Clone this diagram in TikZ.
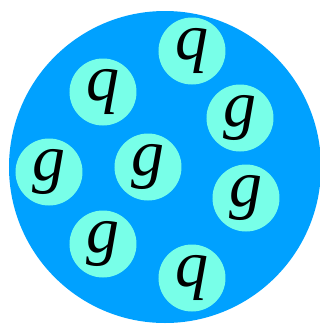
\documentclass[tikz,border=0pt]{standalone}
\usepackage{fontspec}
\setmainfont{Liberation Serif}
\definecolor{hadron}{RGB}{0,161,255}
\definecolor{parton}{RGB}{120,255,232}
\tikzset{
    part/.style={circle, fill=parton, inner sep=0pt, minimum size=67pt,
        font=\fontsize{66}{66}\selectfont\itshape}
}
\begin{document}
\begin{tikzpicture}[x=1pt, y=-1pt]
    \useasboundingbox (0,0) rectangle (320,325);

    \coordinate (C) at (165,167);
    \fill[hadron] (C) circle (156);

    \node[part] (q1) at (192,51) {q};
    \node[part] (q2) at (103,92) {q};
    \node[part] (g1) at (240,118) {g};
    \node[part] (g2) at (49,172) {g};
    \node[part] (g3) at (148,167) {g};
    \node[part] (g4) at (246,198) {g};
    \node[part] (g5) at (103,244) {g};
    \node[part] (q3) at (192,278) {q};
\end{tikzpicture}
\end{document}
